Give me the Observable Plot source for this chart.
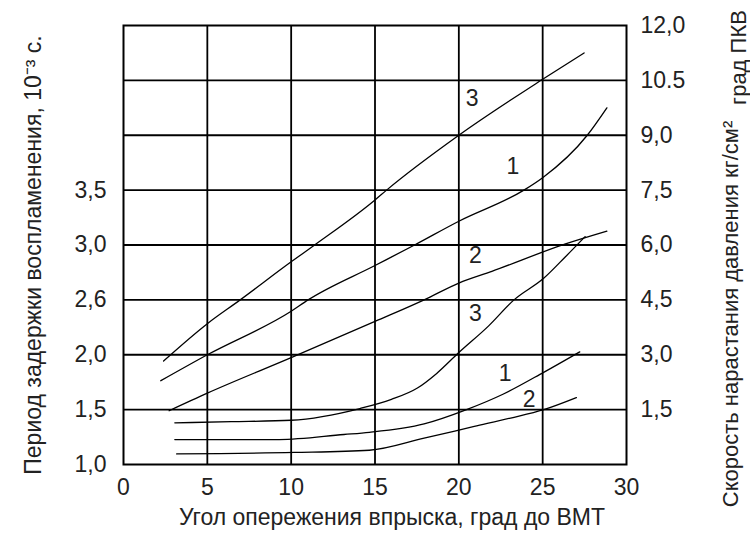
<!DOCTYPE html>
<html>
<head>
<meta charset="utf-8">
<script src="https://cdn.jsdelivr.net/npm/d3@7"></script>
<script src="https://cdn.jsdelivr.net/npm/@observablehq/plot@0.6"></script>
<style>
  html, body { margin: 0; padding: 0; background: #fff; }
</style>
</head>
<body>
<div id="chart"></div>
<script>
// Axis ticks and labels
const xTicks = [0, 5, 10, 15, 20, 25, 30];
const leftTickValues = [0, 1.5, 3, 4.5, 6, 7.5];
const leftTickLabels = ["1,0", "1,5", "2,0", "2,6", "3,0", "3,5"];
const rightTickValues = [1.5, 3, 4.5, 6, 7.5, 9, 10.5, 12];
const rightTickLabels = ["1,5", "3,0", "4,5", "6,0", "7,5", "9,0", "10.5", "12,0"];

// Curves (x: угол опережения, y: in right-axis grid units)
const curve3upperX = [2.39, 5.0, 6.96, 10.0, 11.4, 15.0, 15.69, 20.0, 25.0, 27.47];
const curve3upperY = [2.83, 3.85, 4.5, 5.54, 6.0, 7.23, 7.5, 9.0, 10.53, 11.25];
const curve1upperX = [2.22, 5, 10, 11.01, 15, 17.36, 20, 23.88, 25, 27.66, 28.83];
const curve1upperY = [2.29, 3.0, 4.19, 4.5, 5.44, 6.0, 6.65, 7.5, 7.84, 9.0, 9.75];
const curve2upperX = [2.72, 5, 10, 15, 17.93, 20, 21.97, 26.36, 28.83];
const curve2upperY = [1.47, 1.95, 2.92, 3.91, 4.5, 4.96, 5.28, 6.03, 6.38];
const curve3lowerX = [3.06, 6.43, 10, 14.1, 15.98, 17.53, 18.68, 20, 21.78, 23.29, 25.06, 26.36, 27.53];
const curve3lowerY = [1.14, 1.17, 1.21, 1.53, 1.78, 2.09, 2.49, 3.06, 3.79, 4.5, 5.09, 5.68, 6.23];
const curve1lowerX = [3.06, 9.29, 13.15, 14.66, 17.93, 20.46, 22.63, 25.06, 27.21];
const curve1lowerY = [0.68, 0.68, 0.82, 0.88, 1.11, 1.5, 1.92, 2.52, 3.08];
const curve2lowerX = [3.17, 10.18, 14.66, 17.93, 20.92, 23.09, 25.06, 27.01];
const curve2lowerY = [0.29, 0.33, 0.39, 0.72, 1.04, 1.27, 1.5, 1.83];

// Curve labels
const labelText = ["3", "1", "2", "3", "1", "2"];
const labelX = [20.79, 23.22, 20.99, 20.99, 22.76, 24.2];
const labelY = [10.0, 8.13, 5.71, 4.13, 2.49, 1.78];

// Titles
const xTitle = "Угол опережения впрыска, град до ВМТ";
const leftTitle = "Период задержки воспламенения, 10⁻³ с.";
const rightTitle = "Скорость нарастания давления кг/см²";
const rightTitle2 = "град ПКВ";

const curves = [
  ["3u", curve3upperX, curve3upperY],
  ["1u", curve1upperX, curve1upperY],
  ["2u", curve2upperX, curve2upperY],
  ["3l", curve3lowerX, curve3lowerY],
  ["1l", curve1lowerX, curve1lowerY],
  ["2l", curve2lowerX, curve2lowerY]
];
const lineData = curves.flatMap(([id, xs, ys]) => xs.map((x, i) => ({id, x, y: ys[i]})));
const labels = labelText.map((t, i) => ({t, x: labelX[i], y: labelY[i]}));
const leftMap = new Map(leftTickValues.map((v, i) => [v, leftTickLabels[i]]));
const rightMap = new Map(rightTickValues.map((v, i) => [v, rightTickLabels[i]]));

const font = "'Liberation Sans', Arial, sans-serif";
const txt = "#222";

const chart = Plot.plot({
  width: 750,
  height: 539,
  marginLeft: 123,
  marginRight: 124,
  marginTop: 25,
  marginBottom: 75,
  x: {domain: [0, 30]},
  y: {domain: [0, 12]},
  style: {fontFamily: font, fontSize: "23px", color: txt, background: "#fff", overflow: "visible"},
  marks: [
    Plot.ruleX(xTicks.slice(1, -1), {stroke: "#000", strokeWidth: 1.8}),
    Plot.ruleY(rightTickValues.slice(0, -1), {stroke: "#000", strokeWidth: 1.8}),
    Plot.frame({stroke: "#000", strokeWidth: 2}),
    Plot.axisX({ticks: xTicks, tickSize: 0, tickPadding: 14, label: null, fontSize: 23, fill: txt}),
    Plot.axisY({anchor: "left", ticks: leftTickValues, tickFormat: d => leftMap.get(d), tickSize: 0, tickPadding: 17, label: null, fontSize: 23, fill: txt}),
    Plot.axisY({anchor: "right", ticks: rightTickValues, tickFormat: d => rightMap.get(d), tickSize: 0, tickPadding: 14, label: null, fontSize: 23, fill: txt}),
    Plot.line(lineData, {x: "x", y: "y", z: "id", stroke: "#000", strokeWidth: 1.3, curve: "monotone-x"}),
    Plot.text(labels, {x: "x", y: "y", text: "t", fontSize: 23, fill: txt}),
    Plot.text([xTitle], {text: d => d, frameAnchor: "bottom", textAnchor: "middle", dx: 17, dy: 60, fontSize: 23, fill: txt}),
    Plot.text([leftTitle], {text: d => d, frameAnchor: "left", textAnchor: "middle", dx: -90, dy: 10, rotate: -90, fontSize: 23, fill: txt}),
    Plot.text([rightTitle], {text: d => d, frameAnchor: "right", textAnchor: "middle", dx: 104, dy: 69, rotate: -90, fontSize: 22, fill: txt}),
    Plot.text([rightTitle2], {text: d => d, frameAnchor: "top-right", textAnchor: "middle", dx: 104, dy: 32, rotate: -90, fontSize: 22, fill: txt})
  ]
});
document.getElementById("chart").appendChild(chart);
</script>
</body>
</html>
